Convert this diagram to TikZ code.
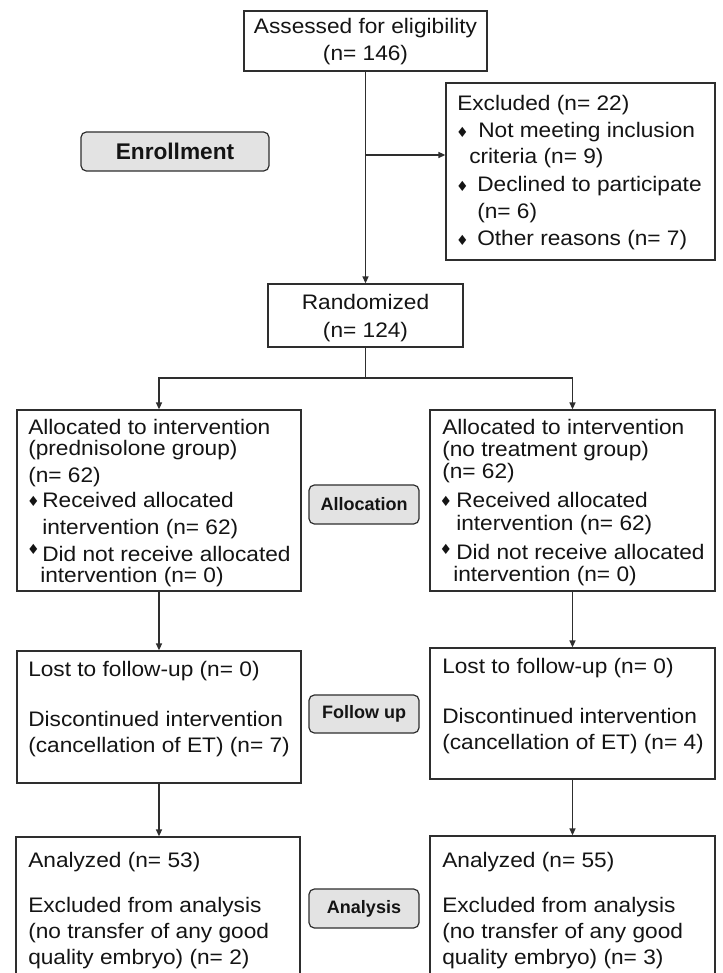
\documentclass[tikz,border=0pt]{standalone}
\usepackage{fontspec}
\setmainfont{Liberation Sans}[FakeStretch=1.08]
\newfontfamily\lblfont{Liberation Sans}
\newfontfamily\symfont{DejaVu Sans}
\usetikzlibrary{arrows.meta}
\definecolor{ln}{HTML}{2E2E2E}
\definecolor{tx}{HTML}{141414}
\definecolor{lblfill}{HTML}{E3E3E3}
\begin{document}
\begin{tikzpicture}[x=0.75pt,y=-0.75pt,
  box/.style={draw=ln, line width=1pt, inner sep=0, fill=white},
  lbl/.style={draw=ln, line width=0.9pt, rounded corners=4pt, fill=lblfill, inner sep=0,
    font=\lblfont\bfseries\fontsize{13.5}{14}\selectfont, text=tx},
  txt/.style={anchor=base west, inner sep=0, text=tx, font=\fontsize{15.75}{17}\selectfont},
  ctxt/.style={txt, anchor=base},
  dm/.style={inner sep=0, text=tx, font=\symfont\fontsize{10.5}{10.5}\selectfont},
  arr/.style={draw=ln, line width=1pt, -{Triangle[length=5.2pt,width=4.5pt]}},
  con/.style={draw=ln, line width=1pt}]

\useasboundingbox (0,0) rectangle (722,973);
\fill[white] (0,0) rectangle (722,973);

% boxes
\node[box, minimum width=243*0.75pt, minimum height=60*0.75pt] (top) at (365.5,41) {};
\node[box, minimum width=269*0.75pt, minimum height=177*0.75pt] (excl) at (580.5,171.5) {};
\node[lbl, font=\lblfont\bfseries\fontsize{17}{18}\selectfont,
      minimum width=188*0.75pt, minimum height=39*0.75pt] (enr) at (175,151.5) {Enrollment};
\node[box, minimum width=195*0.75pt, minimum height=63*0.75pt] (rand) at (365.5,315.5) {};
\node[box, minimum width=284*0.75pt, minimum height=181*0.75pt] (la) at (159,500.5) {};
\node[box, minimum width=285*0.75pt, minimum height=181*0.75pt] (ra) at (572.5,500.5) {};
\node[lbl, minimum width=110*0.75pt, minimum height=39*0.75pt] (alab) at (364,504.5) {Allocation};
\node[box, minimum width=284*0.75pt, minimum height=132*0.75pt] (lf) at (159,717) {};
\node[box, minimum width=285*0.75pt, minimum height=131*0.75pt] (rf) at (572.5,713.5) {};
\node[lbl, minimum width=110*0.75pt, minimum height=38*0.75pt] (flab) at (364,714) {Follow up};
\node[box, minimum width=284*0.75pt, minimum height=150*0.75pt] (lan) at (158,912) {};
\node[box, minimum width=285*0.75pt, minimum height=150*0.75pt] (ran) at (572.5,911) {};
\node[lbl, minimum width=110*0.75pt, minimum height=39*0.75pt] (anlab) at (364,908.5) {Analysis};

% top box text
\node[ctxt] (t1) at (365.5,34) {Assessed for eligibility};
\node[ctxt] (t2) at (365.5,61) {(n= 146)};

% excluded
\node[txt] (e1) at (457,111) {Excluded (n= 22)};
\node[dm] (eb1) at (462.5,132) {♦};
\node[txt] (e2) at (478,137.5) {Not meeting inclusion};
\node[txt] (e3) at (469,164) {criteria (n= 9)};
\node[dm] (eb2) at (462.5,186) {♦};
\node[txt] (e4) at (477,192) {Declined to participate};
\node[txt] (e5) at (477,218.5) {(n= 6)};
\node[dm] (eb3) at (462.5,240) {♦};
\node[txt] (e6) at (477,246) {Other reasons (n= 7)};

% randomized
\node[ctxt] (r1) at (365.5,310) {Randomized};
\node[ctxt] (r2) at (365.5,337) {(n= 124)};

% left allocation
\node[txt] (l1) at (28,434) {Allocated to intervention};
\node[txt] (l2) at (28,455) {(prednisolone group)};
\node[txt] (l3) at (28,482) {(n= 62)};
\node[dm] (lb1) at (33.5,501.5) {♦};
\node[txt] (l4) at (42,507) {Received allocated};
\node[txt] (l5) at (42,534) {intervention (n= 62)};
\node[dm] (lb2) at (33.5,549.5) {♦};
\node[txt] (l6) at (42,561) {Did not receive allocated};
\node[txt] (l7) at (40,582) {intervention (n= 0)};

% right allocation
\node[txt] (q1) at (442,434) {Allocated to intervention};
\node[txt] (q2) at (442,456) {(no treatment group)};
\node[txt] (q3) at (442,478) {(n= 62)};
\node[dm] (qb1) at (446,501.5) {♦};
\node[txt] (q4) at (456,507) {Received allocated};
\node[txt] (q5) at (456,530) {intervention (n= 62)};
\node[dm] (qb2) at (446,549.5) {♦};
\node[txt] (q6) at (456,559) {Did not receive allocated};
\node[txt] (q7) at (453,581) {intervention (n= 0)};

% follow-up
\node[txt] (f1) at (28,676) {Lost to follow-up (n= 0)};
\node[txt] (f2) at (28,726) {Discontinued intervention};
\node[txt] (f3) at (28,752) {(cancellation of ET) (n= 7)};
\node[txt] (g1) at (442,673) {Lost to follow-up (n= 0)};
\node[txt] (g2) at (442,723) {Discontinued intervention};
\node[txt] (g3) at (442,749) {(cancellation of ET) (n= 4)};

% analysis
\node[txt] (a1) at (28,867) {Analyzed (n= 53)};
\node[txt] (a2) at (28,912) {Excluded from analysis};
\node[txt] (a3) at (28,938) {(no transfer of any good};
\node[txt] (a4) at (28,964) {quality embryo) (n= 2)};
\node[txt] (b1) at (442,867) {Analyzed (n= 55)};
\node[txt] (b2) at (442,912) {Excluded from analysis};
\node[txt] (b3) at (442,938) {(no transfer of any good};
\node[txt] (b4) at (442,964) {quality embryo) (n= 3)};

% connectors
\draw[arr] (top.south) -- (rand.north);
\coordinate (br) at (365.5,155);
\draw[arr] (br) -- (br -| excl.west);
\coordinate (sp) at (365.5,378);
\draw[con] (rand.south) -- (sp);
\draw[arr] (sp) -| (la.north);
\draw[arr] (sp) -| (ra.north);
\draw[arr] (la.south) -- (lf.north);
\draw[arr] (ra.south) -- (rf.north);
\draw[arr] (lf.south) -- (lf.south |- lan.north);
\draw[arr] (rf.south) -- (rf.south |- ran.north);
\end{tikzpicture}
\end{document}
